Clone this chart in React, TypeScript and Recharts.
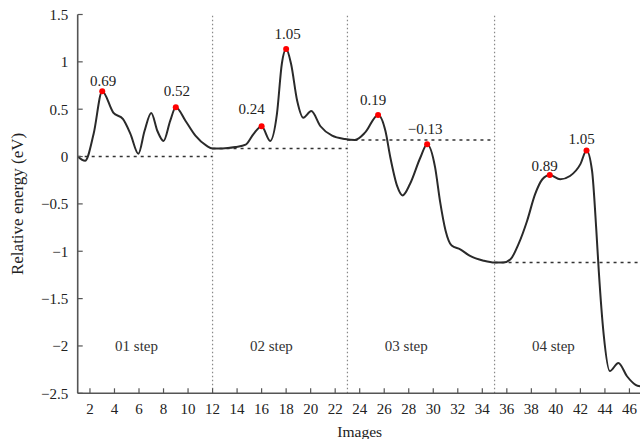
import React from 'react';
import { ComposedChart, Line, Scatter, XAxis, YAxis, ReferenceLine } from 'recharts';

// Energy profile (Images vs relative energy, eV)
const curveX = [
  1.0, 1.6, 2.3, 3.0, 3.9, 4.7, 5.3, 5.95, 6.45, 7.0, 7.5, 8.0, 8.55, 9.0, 9.8, 10.6, 11.5, 12.0,
  12.8, 13.85, 14.7, 15.35, 16.0, 16.7, 17.25, 17.65, 18.0, 18.4, 18.9, 19.4, 20.05, 20.8, 21.75, 22.8,
  23.6, 24.45, 25.5, 26.1, 26.5, 27.05, 27.5, 28.1, 28.95, 29.5, 30.15, 30.55, 31.0, 31.5, 32.2, 33.0, 34.1, 35.0,
  35.7, 36.3, 36.95, 37.65, 38.3, 38.9, 39.5, 40.35, 41.15, 42.0, 42.5, 42.95, 43.3, 43.5, 43.9, 44.4, 45.1, 45.8, 46.5, 47.0,
];
const curveY = [
  0.0, -0.045, 0.24, 0.69, 0.465, 0.395, 0.24, 0.03, 0.27, 0.46, 0.27, 0.165, 0.38, 0.52, 0.375, 0.22, 0.115, 0.085,
  0.085, 0.1, 0.125, 0.24, 0.32, 0.165, 0.45, 0.98, 1.135, 0.98, 0.59, 0.41, 0.48, 0.32, 0.22, 0.185,
  0.175, 0.255, 0.44, 0.27, -0.01, -0.31, -0.41, -0.29, -0.01, 0.13, -0.115, -0.47, -0.78, -0.94, -0.98, -1.05, -1.1, -1.12,
  -1.12, -1.085, -0.925, -0.68, -0.4, -0.24, -0.195, -0.24, -0.205, -0.08, 0.065, -0.15, -0.78, -1.21, -1.88, -2.265, -2.18, -2.32, -2.41, -2.43,
];

// Marked transition states
const peakX = [3, 9, 16, 18, 25.5, 29.5, 39.5, 42.5];
const peakY = [0.69, 0.52, 0.32, 1.135, 0.44, 0.13, -0.195, 0.065];
const peakLabels = ['0.69', '0.52', '0.24', '1.05', '0.19', '\u22120.13', '0.89', '1.05'];

// Steps
const stepNames = ['01 step', '02 step', '03 step', '04 step'];
const stepLabelX = [5.8, 16.8, 27.8, 39.8];
const stepLabelY = -2.0;
const stepBounds = [1, 12, 23, 35, 47];
const stepRefEnergy = [0, 0.085, 0.175, -1.12];

const xTicks = [2, 4, 6, 8, 10, 12, 14, 16, 18, 20, 22, 24, 26, 28, 30, 32, 34, 36, 38, 40, 42, 44, 46];
const yTicks = [-2.5, -2, -1.5, -1, -0.5, 0, 0.5, 1, 1.5];

// label offsets in px (style only)
const peakLabelOffsets = [[1, -10], [1, -16], [-10, -17], [1.5, -15], [-5, -15], [-2, -15], [-5, -9], [-5, -11]];

const curveData = curveX.map((x, i) => ({ x, y: curveY[i] }));
const peakData = peakX.map((x, i) => ({ x, y: peakY[i], label: peakLabels[i], i }));
const stepData = stepNames.map((name, i) => ({ x: stepLabelX[i], y: stepLabelY, name }));

const SERIF = "'Liberation Serif', 'Times New Roman', serif";
const AXIS = '#555';
const tickStyle = { fill: '#222', fontSize: 15, fontFamily: SERIF };

const fmtY = (v: number) => (v < 0 ? '\u2212' + Math.abs(v) : String(v));

const PeakShape = (props: any) => {
  const { cx, cy, payload } = props;
  const off = peakLabelOffsets[payload.i] || [0, -12];
  return (
    <g>
      <circle cx={cx} cy={cy} r={3} fill="#ff0000" />
      <text
        x={cx + off[0]}
        y={cy + off[1]}
        textAnchor="middle"
        dominantBaseline="central"
        fontSize={15}
        fontFamily={SERIF}
        fill="#222"
      >
        {payload.label}
      </text>
    </g>
  );
};

const StepShape = (props: any) => {
  const { cx, cy, payload } = props;
  return (
    <text x={cx} y={cy} textAnchor="middle" dominantBaseline="central" fontSize={15} fontFamily={SERIF} fill="#333">
      {payload.name}
    </text>
  );
};

const YTitle = (props: any) => {
  const vb = props.viewBox || { x: 0, y: 0, height: 0 };
  const cx = 17.5;
  const cy = vb.y + vb.height / 2;
  return (
    <text
      x={cx}
      y={cy}
      transform={`rotate(-90, ${cx}, ${cy})`}
      textAnchor="middle"
      dominantBaseline="central"
      fontSize={17}
      fontFamily={SERIF}
      fill="#222"
    >
      Relative energy (eV)
    </text>
  );
};

export default function App() {
  return (
    <div style={{ position: 'absolute', left: 0, top: 0, width: 640, height: 439, overflow: 'hidden', background: '#fff' }}>
      <ComposedChart width={660} height={439} margin={{ top: 14.5, right: 18.3, bottom: 0, left: 0 }}>
        <XAxis
          xAxisId="b"
          dataKey="x"
          type="number"
          domain={[1, 47]}
          ticks={xTicks}
          interval={0}
          allowDataOverflow
          height={45.7}
          tickSize={-5}
          tickMargin={15}
          tick={tickStyle}
          axisLine={{ stroke: AXIS, strokeWidth: 1.6 }}
          tickLine={{ stroke: AXIS, strokeWidth: 1.2 }}
          label={{ value: 'Images', position: 'insideBottom', offset: 2, style: { fontSize: 15.5, fontFamily: SERIF, fill: '#222' } }}
        />
        <XAxis
          xAxisId="t"
          orientation="top"
          type="number"
          domain={[1, 47]}
          ticks={xTicks}
          interval={0}
          allowDataOverflow
          height={0}
          tickSize={-5}
          tickFormatter={() => ''}
          axisLine={{ stroke: AXIS, strokeWidth: 1.6 }}
          tickLine={{ stroke: AXIS, strokeWidth: 1.2 }}
        />
        <YAxis
          yAxisId="l"
          type="number"
          domain={[-2.5, 1.5]}
          ticks={yTicks}
          interval={0}
          allowDataOverflow
          width={77.7}
          tickSize={-5}
          tickMargin={14.4}
          tickFormatter={fmtY}
          tick={tickStyle}
          axisLine={{ stroke: AXIS, strokeWidth: 1.6 }}
          tickLine={{ stroke: AXIS, strokeWidth: 1.2 }}
          label={<YTitle />}
        />
        <YAxis
          yAxisId="r"
          orientation="right"
          type="number"
          domain={[-2.5, 1.5]}
          ticks={yTicks}
          interval={0}
          allowDataOverflow
          width={0}
          tickSize={-5}
          tickFormatter={() => ''}
          axisLine={{ stroke: AXIS, strokeWidth: 1.6 }}
          tickLine={{ stroke: AXIS, strokeWidth: 1.2 }}
        />

        {stepBounds.slice(1, 4).map((b) => (
          <ReferenceLine key={'v' + b} xAxisId="b" yAxisId="l" x={b} stroke="#888" strokeWidth={1.2} strokeDasharray="1.5 2.5" />
        ))}
        {stepRefEnergy.map((e, i) => (
          <ReferenceLine
            key={'h' + i}
            xAxisId="b"
            yAxisId="l"
            segment={[
              { x: stepBounds[i], y: e },
              { x: stepBounds[i + 1], y: e },
            ]}
            stroke="#333"
            strokeWidth={1.5}
            strokeDasharray="3 4"
          />
        ))}

        <Line
          xAxisId="b"
          yAxisId="l"
          data={curveData}
          dataKey="y"
          type="monotone"
          dot={false}
          activeDot={false}
          stroke="#2a2a2a"
          strokeWidth={2}
          isAnimationActive={false}
        />
        <Scatter xAxisId="b" yAxisId="l" data={peakData} dataKey="y" shape={PeakShape} isAnimationActive={false} />
        <Scatter xAxisId="b" yAxisId="l" data={stepData} dataKey="y" shape={StepShape} isAnimationActive={false} />
      </ComposedChart>
    </div>
  );
}
